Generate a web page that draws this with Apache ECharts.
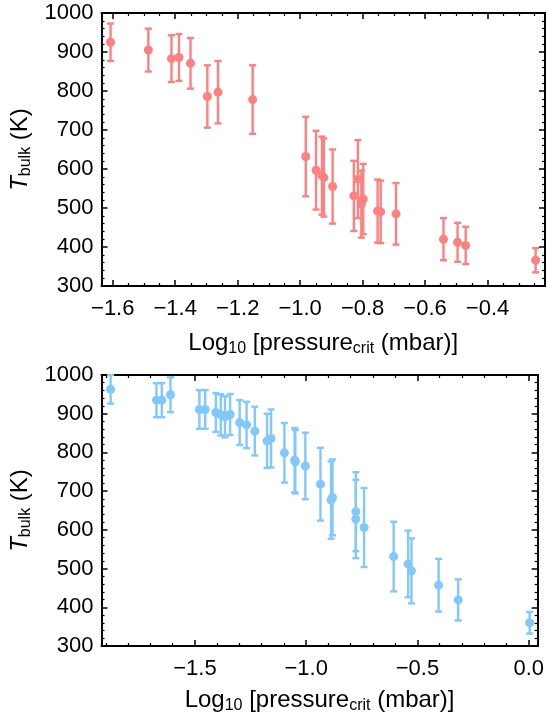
<!DOCTYPE html>
<html>
<head>
<meta charset="utf-8">
<script src="https://cdn.jsdelivr.net/npm/echarts@6/dist/echarts.min.js"></script>
<style>
  html, body { margin: 0; padding: 0; background: #fff; }
  #chart { width: 547px; height: 719px; }
</style>
</head>
<body>
<div id="chart"></div>
<script>
// top panel: log10 critical pressure, bulk temperature, error
const topX = [-1.607, -1.486, -1.412, -1.388, -1.351, -1.297, -1.263, -1.152,
  -0.982, -0.949, -0.930, -0.924, -0.896, -0.828, -0.815, -0.804, -0.798,
  -0.752, -0.742, -0.693, -0.541, -0.496, -0.470, -0.246]
const topT = [925, 905, 883, 886, 871, 786, 797, 778,
  632, 597, 583, 578, 555, 531, 574, 510, 523,
  492, 490, 485, 420, 412, 404, 366]
const topErr = [48, 55, 60, 60, 65, 80, 80, 88,
  102, 101, 100, 100, 95, 90, 100, 86, 90,
  81, 80, 79, 54, 50, 48, 31]

// bottom panel
const bottomX = [-1.879, -1.673, -1.649, -1.610, -1.480, -1.454, -1.406, -1.384,
  -1.365, -1.342, -1.299, -1.268, -1.231, -1.176, -1.158, -1.098, -1.052,
  -1.049, -1.004, -0.936, -0.888, -0.882, -0.777, -0.777, -0.740, -0.607,
  -0.542, -0.527, -0.405, -0.317, 0.004]
const bottomT = [963, 935, 935, 949, 911, 911, 903, 897,
  892, 898, 877, 871, 855, 830, 836, 799, 780,
  776, 765, 718, 677, 684, 647, 628, 606, 531,
  512, 494, 457, 419, 360]
const bottomErr = [37, 44, 44, 45, 50, 50, 50, 53,
  53, 53, 58, 60, 63, 70, 75, 77, 83,
  82, 86, 94, 100, 98, 102, 101, 102, 90,
  86, 84, 68, 53, 28]

const yTicks = ['300', '400', '500', '600', '700', '800', '900', '1000']

const font = 'Arial, "Liberation Sans", sans-serif'
const red = '#ff8080'
const blue = '#80c8ff'

const yName = '{i|T}{s|bulk}{n| (K)}'
const xName = '{n|Log}{s|10}{n| [pressure}{s|crit}{n| (mbar)]}'
const richName = {
  n: { fontSize: 24, fontFamily: font, color: '#000' },
  i: { fontSize: 24, fontFamily: font, color: '#000', fontStyle: 'italic' },
  s: { fontSize: 16, fontFamily: font, color: '#000', padding: [11, 0, 0, 0] }
}

const frameLine = { show: true, onZero: false, lineStyle: { color: '#000', width: 2 } }

const xAxisPair = (grid, min, max, splitNumber, minorSplit, fmt, nameGap, labelMargin) => {
  const common = {
    type: 'value',
    gridIndex: grid,
    min: min,
    max: max,
    splitNumber: splitNumber,
    axisLine: frameLine,
    axisTick: { show: true, inside: true, length: 6, lineStyle: { color: '#000', width: 1.5 } },
    minorTick: { show: true, splitNumber: minorSplit, length: 3, lineStyle: { color: '#000', width: 1.2 } },
    splitLine: { show: false }
  }
  return [
    {
      ...common,
      position: 'bottom',
      name: xName,
      nameLocation: 'middle',
      nameGap: nameGap,
      nameTextStyle: { rich: richName },
      axisLabel: {
        show: true,
        color: '#000',
        fontSize: 22,
        fontFamily: font,
        margin: labelMargin,
        showMinLabel: false,
        showMaxLabel: false,
        formatter: fmt
      }
    },
    { ...common, position: 'top', axisLabel: { show: false } }
  ]
}

const yAxisPair = (grid) => {
  const common = {
    type: 'value',
    gridIndex: grid,
    min: 300,
    max: 1000,
    interval: 100,
    axisLine: frameLine,
    axisTick: { show: true, inside: true, length: 6, lineStyle: { color: '#000', width: 1.5 } },
    minorTick: { show: true, splitNumber: 5, length: 3, lineStyle: { color: '#000', width: 1.2 } },
    splitLine: { show: false }
  }
  return [
    {
      ...common,
      position: 'left',
      name: yName,
      nameLocation: 'middle',
      nameGap: 68,
      nameRotate: 90,
      nameTextStyle: { rich: richName },
      axisLabel: {
        color: '#000',
        fontSize: 22,
        fontFamily: font,
        margin: 8,
        formatter: (v) => yTicks[Math.round((v - 300) / 100)] || String(v)
      }
    },
    { ...common, position: 'right', axisLabel: { show: false } }
  ]
}

const minus = (v) => (v < 0 ? '\u2212' + Math.abs(v).toFixed(1) : v.toFixed(1))

const errorBars = (xs, ys, es, color, xi, yi) => ({
  type: 'custom',
  xAxisIndex: xi,
  yAxisIndex: yi,
  silent: true,
  z: 2,
  renderItem: (params, api) => {
    const x = api.value(0)
    const y = api.value(1)
    const e = api.value(2)
    const hi = api.coord([x, y + e])
    const lo = api.coord([x, y - e])
    const w = 3.5
    const style = { stroke: color, lineWidth: 2.4 }
    return {
      type: 'group',
      children: [
        { type: 'line', shape: { x1: hi[0], y1: hi[1], x2: lo[0], y2: lo[1] }, style: style },
        { type: 'line', shape: { x1: hi[0] - w, y1: hi[1], x2: hi[0] + w, y2: hi[1] }, style: style },
        { type: 'line', shape: { x1: lo[0] - w, y1: lo[1], x2: lo[0] + w, y2: lo[1] }, style: style }
      ]
    }
  },
  encode: { x: 0, y: 1 },
  data: xs.map((x, i) => [x, ys[i], es[i]])
})

const points = (xs, ys, color, xi, yi) => ({
  type: 'scatter',
  xAxisIndex: xi,
  yAxisIndex: yi,
  symbol: 'circle',
  symbolSize: 9,
  z: 3,
  itemStyle: { color: color, opacity: 1 },
  data: xs.map((x, i) => [x, ys[i]])
})

const myChart = echarts.init(document.getElementById('chart'), null, { renderer: 'canvas' })

const option = {
  animation: false,
  backgroundColor: '#fff',
  grid: [
    { left: 100, right: 2, top: 13, height: 273 },
    { left: 100, right: 8, top: 375, height: 271 }
  ],
  xAxis: [
    ...xAxisPair(0, -1.636, -0.216, 7, 4, minus, 44, 12),
    ...xAxisPair(1, -1.92, 0.04, 4, 5, minus, 41, 12)
  ],
  yAxis: [
    ...yAxisPair(0),
    ...yAxisPair(1)
  ],
  series: [
    errorBars(topX, topT, topErr, red, 0, 0),
    points(topX, topT, red, 0, 0),
    errorBars(bottomX, bottomT, bottomErr, blue, 2, 2),
    points(bottomX, bottomT, blue, 2, 2)
  ]
}

myChart.setOption(option)
</script>
</body>
</html>
